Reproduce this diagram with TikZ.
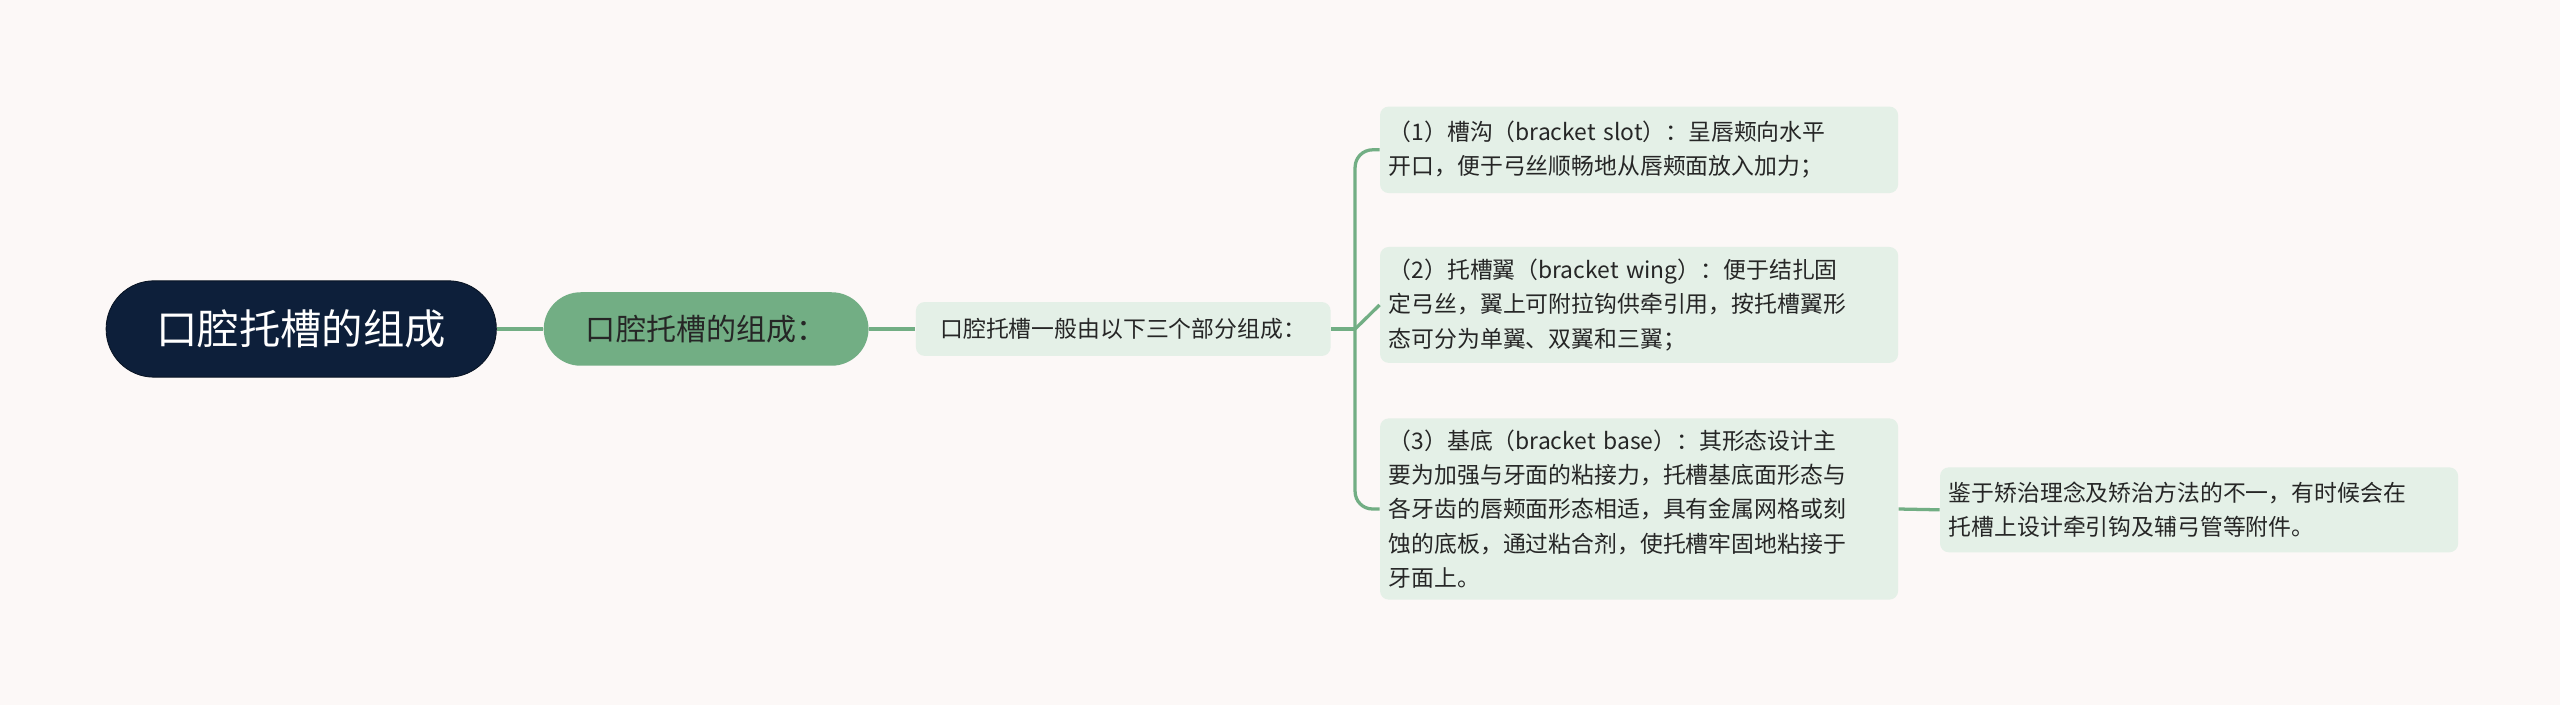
\documentclass[tikz,border=0pt]{standalone}
\usepackage{fontspec}
\setmainfont{Noto Sans CJK SC}
\XeTeXlinebreaklocale "zh"
\XeTeXlinebreakskip=0pt plus 1pt
\begin{document}
\begin{tikzpicture}[x=0.75pt,y=-0.75pt,
  con/.style={draw=linkg,line width=1.5pt},
  leaf/.style={fill=leafbg,rounded corners=4pt,text width=#1,align=left,inner xsep=4pt,inner ysep=5pt,font=\fontsize{10.5}{15.8}\selectfont,text=black!85,anchor=north west}]
\definecolor{bg}{HTML}{FCF8F7}
\definecolor{linkg}{HTML}{72AE84}
\definecolor{leafbg}{HTML}{E4F0E7}
\definecolor{navy}{HTML}{0D1F3A}
\fill[bg] (0,0) rectangle (1568,432);
\useasboundingbox (0,0) rectangle (1568,432);
\node[fill=navy,rounded corners=22pt,minimum width=239*0.75pt,minimum height=59*0.75pt,text=white,font=\fontsize{19}{22}\selectfont,draw=navy!60!black] (root) at (184.5,201.5) {口腔托槽的组成};
\node[fill=linkg,rounded corners=17pt,minimum width=199*0.75pt,minimum height=45*0.75pt,text=black!85,font=\fontsize{13.8}{16}\selectfont] (n2) at (432.5,201.5) {口腔托槽的组成：};
\node[fill=leafbg,rounded corners=4pt,minimum width=254*0.75pt,minimum height=33*0.75pt,font=\fontsize{10.5}{14}\selectfont,text=black!85] (n3) at (688,201.5) {口腔托槽一般由以下三个部分组成：};
\node[leaf=230pt,minimum height=53*0.75pt] (l1) at (845,65) {（1）槽沟（bracket slot）：呈唇颊向水平\\开口，便于弓丝顺畅地从唇颊面放入加力；};
\node[leaf=230pt,minimum height=71*0.75pt] (l2) at (845,151) {（2）托槽翼（bracket wing）：便于结扎固\\定弓丝，翼上可附拉钩供牵引用，按托槽翼形\\态可分为单翼、双翼和三翼；};
\node[leaf=230pt,minimum height=111*0.75pt] (l3) at (845,256) {（3）基底（bracket base）：其形态设计主\\要为加强与牙面的粘接力，托槽基底面形态与\\各牙齿的唇颊面形态相适，具有金属网格或刻\\蚀的底板，通过粘合剂，使托槽牢固地粘接于\\牙面上。};
\node[leaf=230pt,minimum height=52*0.75pt] (l4) at (1188,286) {鉴于矫治理念及矫治方法的不一，有时候会在\\托槽上设计牵引钩及辅弓管等附件。};
\coordinate (br) at (830,201.5);
\draw[con] (root.east) -- (n2.west);
\draw[con] (n2.east) -- (n3.west);
\draw[con] (n3.east) -- (br);
\draw[con,rounded corners=8pt] (br) |- (l1.west);
\draw[con] (br) -- (l2.west);
\draw[con,rounded corners=8pt] (br) |- (l3.west);
\draw[con] (l3.east) -- (l4.west);
\end{tikzpicture}
\end{document}
